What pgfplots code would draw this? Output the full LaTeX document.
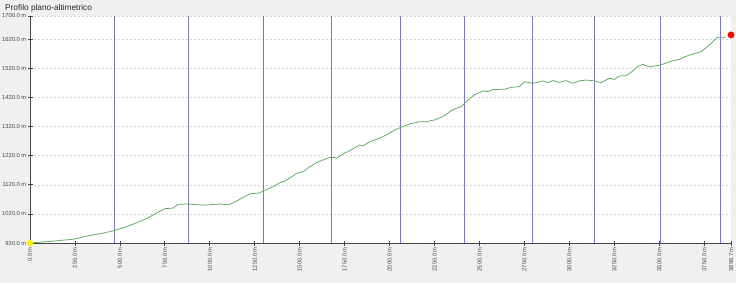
\documentclass[border=0pt]{standalone}
\usepackage{pgfplots}
\pgfplotsset{compat=1.18}
\usepackage{fontspec}
\setmainfont{Liberation Sans}
\definecolor{bgc}{RGB}{240,240,240}
\definecolor{vline}{RGB}{120,116,200}
\definecolor{prof}{RGB}{90,168,90}
\definecolor{tickc}{RGB}{70,70,70}
\definecolor{gridc}{RGB}{212,212,212}
\begin{document}
\begin{tikzpicture}[x=1bp,y=1bp]
\fill[bgc] (0,0) rectangle (736,283);
\path[use as bounding box] (0,0) rectangle (736,283);
\node[anchor=north west,inner sep=0pt,font=\fontsize{8.3bp}{9bp}\selectfont,text=black!85] at (5,279) {Profilo plano-altimetrico};
\begin{axis}[
  at={(30bp,40bp)}, anchor=south west,
  scale only axis, width=701bp, height=227bp,
  xmin=0, xmax=3898.7, ymin=920, ymax=1700,
  axis background/.style={fill=white},
  axis lines*=left,
  axis line style={draw=tickc, line width=0.9bp},
  xtick={0,250,500,750,1000,1250,1500,1750,2000,2250,2500,2750,3000,3250,3500,3750,3898.7},
  xticklabels={0.0 m,250.0 m,500.0 m,750.0 m,1000.0 m,1250.0 m,1500.0 m,1750.0 m,2000.0 m,2250.0 m,2500.0 m,2750.0 m,3000.0 m,3250.0 m,3500.0 m,3750.0 m,3898.7 m},
  ytick={920,1020,1120,1220,1320,1420,1520,1620,1700},
  yticklabels={920.0 m,1020.0 m,1120.0 m,1220.0 m,1320.0 m,1420.0 m,1520.0 m,1620.0 m,1700.0 m},
  x tick label style={rotate=90, anchor=east, font=\fontsize{5.8bp}{6bp}\selectfont, text=tickc, inner sep=1.5bp},
  y tick label style={font=\fontsize{5.8bp}{6bp}\selectfont, text=tickc, inner sep=1bp},
  tick align=center, major tick length=5bp,
  tick style={draw=tickc, line width=0.8bp},
  ymajorgrids, major grid style={draw=gridc, dash pattern=on 2bp off 2bp, line width=0.5bp},
  clip=false,
]
\foreach \xv in {472,883,1300,1678,2061,2417,2794,3139,3506,3839}{
  \edef\tmp{\noexpand\addplot[vline, line width=1.1bp, forget plot] coordinates {(\xv,920) (\xv,1700)};}
  \tmp
}
\addplot[prof, line width=0.75bp] coordinates {
(0,920) (120,926) (241,933) (333,946) (400,953) (463,962) (519,972) (575,985)
(630,999) (667,1010) (710,1025) (750,1038) (796,1040) (824,1053) (880,1054)
(920,1052) (963,1050) (1010,1052) (1056,1054) (1102,1051) (1130,1058) (1175,1073)
(1222,1089) (1278,1092) (1300,1100) (1352,1113) (1389,1127) (1417,1133) (1450,1145)
(1481,1159) (1519,1165) (1556,1182) (1602,1199) (1630,1205) (1667,1214) (1694,1214)
(1704,1211) (1741,1226) (1778,1237) (1833,1257) (1852,1253) (1889,1268) (1944,1280)
(1981,1291) (2028,1308) (2065,1318) (2111,1329) (2167,1337) (2204,1337) (2250,1343)
(2296,1354) (2343,1375) (2370,1383) (2398,1388) (2426,1406) (2472,1429) (2519,1443)
(2546,1440) (2574,1447) (2611,1448) (2639,1448) (2676,1455) (2722,1457) (2750,1474)
(2796,1469) (2824,1472) (2852,1477) (2880,1471) (2907,1478) (2944,1472) (2981,1478)
(3019,1469) (3056,1477) (3093,1480) (3139,1477) (3176,1471) (3222,1486) (3250,1482)
(3278,1494) (3315,1495) (3350,1510) (3380,1526) (3407,1534) (3444,1525) (3509,1532)
(3556,1543) (3611,1551) (3667,1566) (3731,1577) (3778,1600) (3824,1627) (3870,1627)
};
\addplot[only marks, mark=*, mark size=3bp, mark options={fill=yellow, draw=yellow}] coordinates {(0,920)};
\addplot[only marks, mark=*, mark size=3.2bp, mark options={fill=red, draw=red}] coordinates {(3898.7,1635)};
\end{axis}
\end{tikzpicture}
\end{document}
